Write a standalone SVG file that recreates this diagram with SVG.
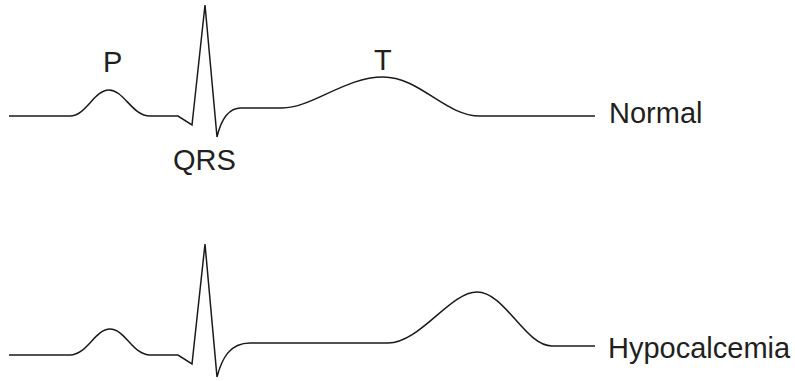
<svg xmlns="http://www.w3.org/2000/svg" width="795" height="381" viewBox="0 0 795 381">
<style>
.trace{fill:none;stroke:#1a1a1a;stroke-width:1.5;stroke-linejoin:miter;stroke-linecap:butt}
.lbl{font-family:"Liberation Sans",Arial,sans-serif;font-size:29px;fill:#231f20}
</style>
<rect width="795" height="381" fill="#fff"/>
<g id="normal">
<path class="trace" d="M9,116 H70 C86,116 94,90 109,90 C124,90 132,116 150,116 H178 L192,125 L205,5 L217,137 C221,120 228,108 241,108 L282,108 C312,108 345,77 383,77 C420,77 445,116 480,116 H595"/>
<text class="lbl" x="103" y="72">P</text>
<text class="lbl" x="173" y="170">QRS</text>
<text class="lbl" x="374" y="70">T</text>
<text class="lbl" x="609" y="123">Normal</text>
</g>
<g id="hypocalcemia">
<path class="trace" d="M9,355 H70 C87,355 95,329 110,329 C125,329 133,355 150,355 H178 L192,364 L205,244 L217,377 C222,358 230,343 250,343 H388 C420,343 450,292 477,292 C505,292 525,346 552,346 H595"/>
<text class="lbl" x="608" y="358">Hypocalcemia</text>
</g>
</svg>
